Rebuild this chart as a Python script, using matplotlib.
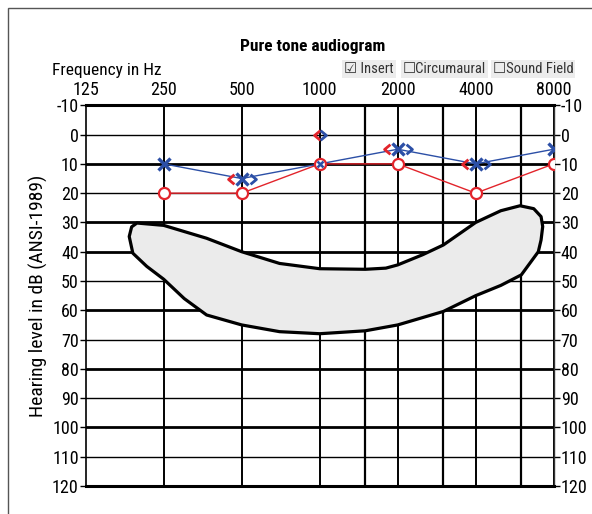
import matplotlib
matplotlib.use("Agg")
import matplotlib.pyplot as plt
from matplotlib.markers import MarkerStyle
from matplotlib.path import Path
from matplotlib.patches import Polygon, Rectangle
from matplotlib.transforms import offset_copy

plt.rcParams["font.family"] = ["Roboto Condensed", "Liberation Sans Narrow",
                               "Roboto", "DejaVu Sans"]

# ---- data ------------------------------------------------------------------
freqs = [250, 500, 1000, 2000, 4000, 8000]
right_air = [20, 20, 10, 10, 20, 10]      # red circles
left_air = [10, 15, 10, 5, 10, 5]         # blue crosses
bone_freqs = [500, 1000, 2000, 4000]
right_bone = [15, 0, 5, 10]               # red "<"
left_bone = [15, 0, 5, 10]                # blue ">"

octave_labels = [125, 250, 500, 1000, 2000, 4000, 8000]
half_octaves = [1500, 3000, 6000]
db_levels = list(range(-10, 121, 10))
thick_levels = [-10, 10, 30, 40, 60, 80, 100, 120]

# speech banana outline (Hz, dB HL)
banana_hz = [197, 250, 366, 500, 700, 1000, 1500, 1800, 2000, 2500, 3000, 4000,
             5000, 5930, 6700, 7150, 7256, 7150, 6977, 6000, 5000, 4000, 3000,
             2000, 1500, 1000, 700, 500, 366, 300, 250, 215, 190, 184, 188]
banana_db = [30.2, 31, 35.4, 40, 44, 45.8, 46, 45.6, 44.5, 41, 37.7, 30,
             26, 24.3, 25.3, 28, 31.4, 36, 40, 47.9, 51.5, 55, 60.4,
             65, 67, 68, 67.3, 65, 61.6, 56, 49.4, 45, 40.5, 34.8, 31.5]

RED = "#e2242b"
BLUE = "#2c4fa6"

fig = plt.figure(figsize=(5.92, 5.14), dpi=100)
ax = fig.add_axes([0.1448, 0.0545, 0.7905, 0.7406])

# outer frame (cropped on right/bottom like the original)
fig.patches.append(Rectangle((8 / 592, -0.1), 1.2, 1 - 8 / 514 + 0.1,
                             transform=fig.transFigure, fill=False,
                             edgecolor="#555555", lw=1.0))

ax.set_xscale("log", base=2)
ax.set_xlim(125, 8000)
ax.set_ylim(120, -10)

# grid
for lv in db_levels:
    ax.axhline(lv, color="black", lw=2.0 if lv in thick_levels else 1.0, zorder=1)
for f in octave_labels[1:]:
    ax.axvline(f, color="black", lw=1.4, zorder=1)
for f in half_octaves:
    ax.axvline(f, color="black", lw=1.6, zorder=1)

# speech banana
ax.add_patch(Polygon(list(zip(banana_hz, banana_db)), closed=True,
                     facecolor="#ebebeb", edgecolor="black", lw=2.3,
                     joinstyle="round", zorder=2))

# air conduction
ax.plot(freqs, right_air, color=RED, lw=1.0, zorder=3)
ax.plot(freqs, left_air, color=BLUE, lw=1.0, zorder=3)
ax.plot(freqs, right_air, ls="none", marker="o", ms=8, mfc="white",
        mec=RED, mew=1.6, zorder=4)
# a cross sitting inside a circle is drawn smaller
x_sizes = [5 if l == r else 8 for l, r in zip(left_air, right_air)]
for f, v, s in zip(freqs, left_air, x_sizes):
    ax.plot([f], [v], ls="none", marker="x", ms=s, mec=BLUE,
            mew=2.4 if s > 6 else 1.8, zorder=5)

# bone conduction: shifted aside when it would sit on an air symbol
lt = MarkerStyle(Path([(0.3, 0.5), (-0.3, 0), (0.3, -0.5)],
                      [Path.MOVETO, Path.LINETO, Path.LINETO]),
                 joinstyle="miter", capstyle="butt")
gt = MarkerStyle(Path([(-0.3, 0.5), (0.3, 0), (-0.3, -0.5)],
                      [Path.MOVETO, Path.LINETO, Path.LINETO]),
                 joinstyle="miter", capstyle="butt")
for f, rb, lb in zip(bone_freqs, right_bone, left_bone):
    i = freqs.index(f)
    clash = rb in (right_air[i], left_air[i])
    dx = 8 if clash else 2.2          # points
    tl = offset_copy(ax.transData, fig=fig, x=-dx, y=0, units="points")
    tr = offset_copy(ax.transData, fig=fig, x=dx, y=0, units="points")
    ax.plot([f], [rb], ls="none", marker=lt, ms=7, mfc="none", mec=RED,
            mew=2.0, transform=tl, zorder=6)
    ax.plot([f], [lb], ls="none", marker=gt, ms=7, mfc="none", mec=BLUE,
            mew=2.0, transform=tr, zorder=6)

# axes & ticks
ax.set_yticks(db_levels)
ax.set_yticklabels([str(v) for v in db_levels])
ax.tick_params(axis="y", which="both", left=True, right=True, labelleft=True,
               labelright=True, direction="out", length=4, width=1.0,
               labelsize=13, pad=1)
ax.set_xticks(octave_labels)
ax.set_xticklabels([str(v) for v in octave_labels])
ax.xaxis.set_minor_locator(matplotlib.ticker.NullLocator())
ax.tick_params(axis="x", top=False, bottom=False, labeltop=True,
               labelbottom=False, labelsize=13, pad=1)
ax.spines["top"].set_linewidth(2.2)
ax.spines["bottom"].set_linewidth(2.2)
ax.spines["left"].set_linewidth(1.2)
ax.spines["right"].set_linewidth(1.0)
ax.spines["right"].set_color("#333333")

ax.set_ylabel("Hearing level in dB (ANSI-1989)", fontsize=14, labelpad=3)

fig.text(0.528, 0.91, "Pure tone audiogram", ha="center", va="center",
         fontsize=12.5, fontweight="bold")
fig.text(0.088, 0.862, "Frequency in Hz", ha="left", va="center", fontsize=12.5)

box = dict(facecolor="#ececec", edgecolor="none", pad=1.5)
fig.text(0.581, 0.866, "\u2611 Insert", ha="left", va="center", fontsize=10.5,
         color="#333333", bbox=box)
fig.text(0.681, 0.866, "\u2610Circumaural", ha="left", va="center",
         fontsize=10.5, color="#333333", bbox=box)
fig.text(0.832, 0.866, "\u2610Sound Field", ha="left", va="center",
         fontsize=10.5, color="#333333", bbox=box)

fig.savefig("out.png", dpi=100)
